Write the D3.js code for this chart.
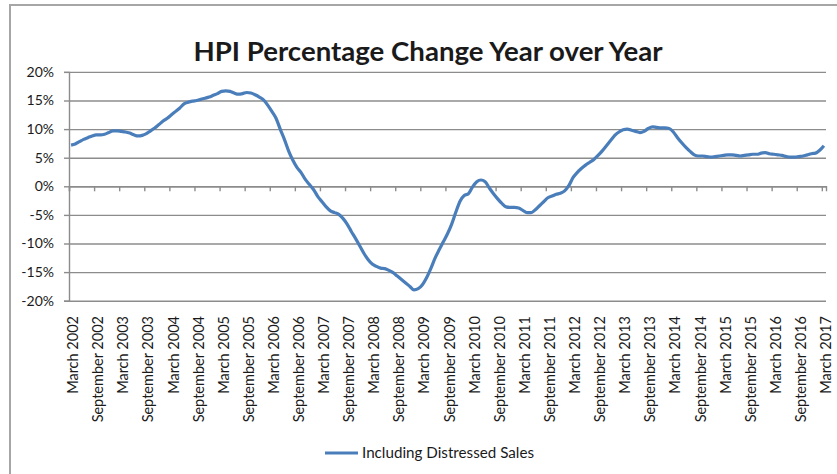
<!DOCTYPE html>
<html>
<head>
  <meta charset="utf-8">
  <script src="https://d3js.org/d3.v7.min.js"></script>
  <style>
    body { margin: 0; background: #fff; }
    text { font-family: Lato, "Open Sans", sans-serif; fill: #1a1a1a; }
  </style>
</head>
<body>
  <div id="graph"></div>
  <script>
    // HPI % change year over year, monthly, March 2002 .. March 2017
    var startMonth = new Date(2002, 2, 1);
    var endMonth = new Date(2017, 3, 1);
    var months = d3.timeMonth.range(startMonth, endMonth); // 181 months

    var hpiChange = [
      7.2, 7.4, 7.8, 8.2, 8.5, 8.8, 9.0, 9.0, 9.1, 9.4, 9.7, 9.7,
      9.6, 9.5, 9.3, 9.0, 8.8, 8.9, 9.2, 9.7, 10.2, 10.8, 11.4, 11.9,
      12.5, 13.1, 13.7, 14.4, 14.7, 14.9, 15.0, 15.2, 15.4, 15.6, 15.9, 16.2,
      16.6, 16.7, 16.6, 16.3, 16.1, 16.2, 16.4, 16.3, 16.0, 15.6, 15.1, 14.2,
      13.1, 11.9, 10.0, 8.2, 6.2, 4.6, 3.3, 2.4, 1.2, 0.3, -0.6, -1.8,
      -2.7, -3.6, -4.3, -4.6, -4.9, -5.6, -6.6, -7.9, -9.1, -10.4, -11.7, -12.8,
      -13.6, -14.0, -14.3, -14.4, -14.7, -15.1, -15.7, -16.3, -16.9, -17.5, -18.1, -17.9,
      -17.2, -16.0, -14.4, -12.6, -11.1, -9.7, -8.3, -6.6, -4.5, -2.6, -1.6, -1.3,
      -0.1, 0.8, 1.1, 0.8, -0.3, -1.3, -2.2, -3.0, -3.6, -3.7, -3.7, -3.8,
      -4.2, -4.6, -4.6, -4.1, -3.4, -2.7, -2.0, -1.7, -1.4, -1.2, -0.8, 0.1,
      1.5, 2.4, 3.1, 3.7, 4.2, 4.7, 5.4, 6.2, 7.1, 8.0, 8.9, 9.5,
      9.9, 10.0, 9.8, 9.6, 9.4, 9.6, 10.1, 10.4, 10.3, 10.2, 10.2, 10.1,
      9.5, 8.5, 7.6, 6.8, 6.1, 5.5, 5.3, 5.3, 5.2, 5.1, 5.2, 5.3,
      5.4, 5.5, 5.5, 5.4, 5.3, 5.4, 5.5, 5.6, 5.6, 5.8, 5.9, 5.7,
      5.6, 5.5, 5.4, 5.2, 5.1, 5.1, 5.2, 5.3, 5.5, 5.7, 5.8, 6.3,
      7.1
    ];

    var yTicks = [20, 15, 10, 5, 0, -5, -10, -15, -20];

    var xTickLabels = [
      "March 2002", "September 2002", "March 2003", "September 2003",
      "March 2004", "September 2004", "March 2005", "September 2005",
      "March 2006", "September 2006", "March 2007", "September 2007",
      "March 2008", "September 2008", "March 2009", "September 2009",
      "March 2010", "September 2010", "March 2011", "September 2011",
      "March 2012", "September 2012", "March 2013", "September 2013",
      "March 2014", "September 2014", "March 2015", "September 2015",
      "March 2016", "September 2016", "March 2017"
    ];

    var seriesName = "Including Distressed Sales";
    var chartTitle = "HPI Percentage Change Year over Year";

    var width = 837;
    var height = 474;
    var plotLeft = 69, plotRight = 826, plotTop = 71.9, plotBottom = 300.7;

    var svg = d3.select("#graph").append("svg")
      .attr("width", width)
      .attr("height", height);

    // chart frame
    svg.append("rect")
      .attr("x", 10).attr("y", 5)
      .attr("width", 850).attr("height", 490)
      .attr("fill", "#fff")
      .attr("stroke", "#a6a6a6")
      .attr("stroke-width", 2);

    svg.append("text")
      .attr("x", 428).attr("y", 61)
      .attr("text-anchor", "middle")
      .attr("font-size", 26)
      .attr("font-weight", "bold")
      .attr("textLength", 469)
      .attr("lengthAdjust", "spacingAndGlyphs")
      .text(chartTitle);

    var x = d3.scaleBand()
      .domain(months)
      .range([plotLeft, plotRight]);

    // index scale for the tick marks between categories
    var xi = d3.scaleLinear()
      .domain([0, months.length])
      .range([plotLeft, plotRight]);

    var y = d3.scaleLinear()
      .domain([-20, 20])
      .range([plotBottom, plotTop]);

    // gridlines
    var grid = svg.append("g")
      .attr("transform", "translate(" + plotLeft + ",0)")
      .call(d3.axisRight(y).tickValues(yTicks).tickSize(plotRight - plotLeft).tickFormat(""));
    grid.select(".domain").remove();
    grid.selectAll("line").attr("stroke", "#8c8c8c").attr("stroke-width", 1.4);

    // y axis
    var yAxis = svg.append("g")
      .attr("transform", "translate(" + plotLeft + ",0)")
      .call(d3.axisLeft(y).tickValues(yTicks).tickSize(5).tickPadding(10)
        .tickFormat(function(d) { return d + "%"; }));
    yAxis.select(".domain").attr("stroke", "#8c8c8c").attr("stroke-width", 1.4);
    yAxis.selectAll("line").attr("stroke", "#8c8c8c").attr("stroke-width", 1.4);
    yAxis.selectAll("text")
      .attr("font-size", 14)
      .attr("font-family", "Lato, sans-serif")
      .attr("fill", "#1a1a1a");

    // category axis on the zero line
    var xAxis = svg.append("g")
      .attr("transform", "translate(0," + y(0) + ")")
      .call(d3.axisBottom(xi).tickValues(d3.range(0, months.length, 6)).tickSize(5).tickFormat(""));
    xAxis.select(".domain").attr("stroke", "#8c8c8c").attr("stroke-width", 1.4);
    xAxis.selectAll("line").attr("stroke", "#8c8c8c").attr("stroke-width", 1.4);

    // category labels at the bottom
    var labelMonths = months.filter(function(d, i) { return i % 6 === 0; });
    svg.append("g").selectAll("text")
      .data(labelMonths).enter()
      .append("text")
      .attr("transform", function(d) {
        return "translate(" + (x(d) + x.bandwidth() / 2 + 2) + ",316) rotate(-90)";
      })
      .attr("text-anchor", "end")
      .attr("dy", "0.35em")
      .attr("font-size", 14.5)
      .text(function(d, i) { return xTickLabels[i]; });

    // the series
    var line = d3.line()
      .x(function(d, i) { return x(months[i]) + x.bandwidth() / 2; })
      .y(function(d) { return y(d); })
      .curve(d3.curveMonotoneX);

    svg.append("path")
      .datum(hpiChange)
      .attr("d", line)
      .attr("fill", "none")
      .attr("stroke", "#4a7ebb")
      .attr("stroke-width", 3.2)
      .attr("stroke-linejoin", "round");

    // legend
    svg.append("line")
      .attr("x1", 325).attr("x2", 358)
      .attr("y1", 453).attr("y2", 453)
      .attr("stroke", "#4a7ebb")
      .attr("stroke-width", 3.2);
    svg.append("text")
      .attr("x", 362).attr("y", 458)
      .attr("font-size", 14.5)
      .attr("textLength", 172)
      .attr("lengthAdjust", "spacingAndGlyphs")
      .text(seriesName);
  </script>
</body>
</html>
